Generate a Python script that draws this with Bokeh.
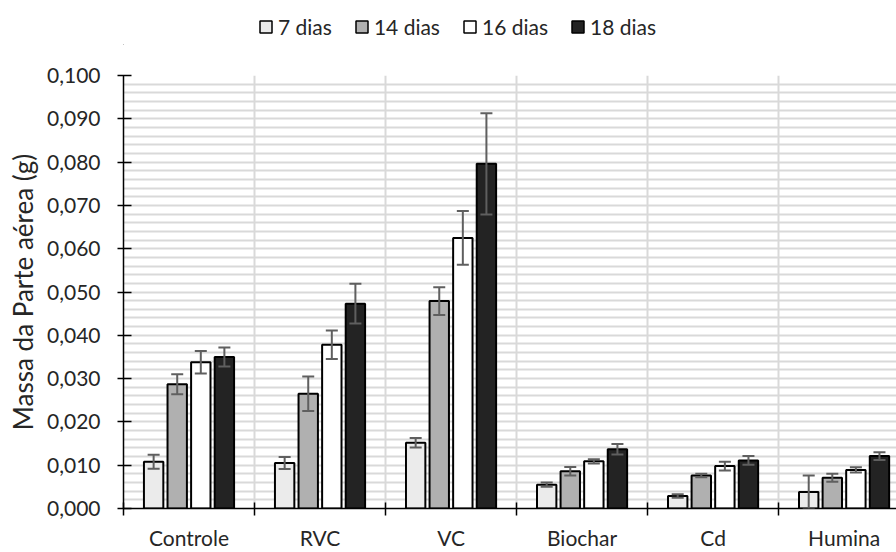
import numpy as np
from bokeh.plotting import figure
from bokeh.layouts import column
from bokeh.models import (ColumnDataSource, Range1d, FixedTicker, SingleIntervalTicker,
                          CustomJSTickFormatter, Whisker, TeeHead, Legend, LegendItem)
from bokeh.transform import dodge
from bokeh.embed import file_html
from bokeh.resources import INLINE

# ---- data ----
categories = ["Controle", "RVC", "VC", "Biochar", "Cd", "Humina"]
series_names = ["7 dias", "14 dias", "16 dias", "18 dias"]

mean_7 = [0.0108, 0.0105, 0.0152, 0.0055, 0.0029, 0.0038]
err_7 = [0.0016, 0.0014, 0.0011, 0.0005, 0.0004, 0.0038]
mean_14 = [0.0287, 0.0265, 0.0479, 0.0086, 0.0076, 0.0071]
err_14 = [0.0023, 0.0040, 0.0032, 0.0010, 0.0004, 0.0009]
mean_16 = [0.0338, 0.0378, 0.0625, 0.0109, 0.0098, 0.0089]
err_16 = [0.0026, 0.0033, 0.0062, 0.0005, 0.0010, 0.0006]
mean_18 = [0.0350, 0.0473, 0.0796, 0.0137, 0.0111, 0.0121]
err_18 = [0.0022, 0.0046, 0.0117, 0.0012, 0.0010, 0.0009]

y_title = "Massa da Parte aérea (g)"

# ---- styles ----
FONT = "Lato"
fills = ["#ebebeb", "#b0b0b0", "#ffffff", "#232323"]
offsets = [-0.27, -0.09, 0.09, 0.27]
bar_w = 0.148
err_color = "#5f5f5f"
LEG_H = 45

# ---- legend strip (separate figure above the chart) ----
leg = figure(width=896, height=LEG_H, output_backend="svg", toolbar_location=None,
             x_range=Range1d(0, 1), y_range=Range1d(0, 1),
             x_axis_location=None, y_axis_location=None,
             min_border=0, background_fill_color="white", border_fill_color="white")
leg.outline_line_color = None
leg.grid.visible = False
# swatch-only renderers, placed outside the visible range so only their legend swatches show
leg_rends = [leg.vbar(x=[-5], top=[0], width=0.1, fill_color=c, line_color="black", line_width=1.5)
             for c in fills]
legend = Legend(items=[LegendItem(label=n, renderers=[r]) for n, r in zip(series_names, leg_rends)],
                orientation="horizontal", location=(135, 6),
                label_text_font=FONT, label_text_font_size="21px", label_text_color="#262626",
                glyph_width=15, glyph_height=15, label_standoff=5, spacing=22,
                padding=0, margin=0, border_line_color=None, background_fill_alpha=0)
leg.add_layout(legend, "center")

# ---- main chart ----
p = figure(width=896, height=552 - LEG_H, output_backend="svg", toolbar_location=None,
           x_range=Range1d(0, 5.9), y_range=Range1d(0, 0.1),
           min_border_left=123, min_border_right=0, min_border_top=75 - LEG_H,
           min_border_bottom=43,
           background_fill_color="white", border_fill_color="white")
p.outline_line_color = None

xc = [i + 0.5 for i in range(len(categories))]
means = [mean_7, mean_14, mean_16, mean_18]
errs = [err_7, err_14, err_16, err_18]

for name, m, e, off, col in zip(series_names, means, errs, offsets, fills):
    m = np.array(m); e = np.array(e)
    src = ColumnDataSource(dict(x=xc, top=m, upper=m + e, lower=np.maximum(m - e, 0)))
    p.vbar(x=dodge("x", off), top="top", width=bar_w, bottom=0, source=src,
           fill_color=col, line_color="black", line_width=2)
    w = Whisker(base=dodge("x", off), upper="upper", lower="lower", source=src,
                line_color=err_color, line_width=2,
                upper_head=TeeHead(size=12, line_color=err_color, line_width=2),
                lower_head=TeeHead(size=12, line_color=err_color, line_width=2))
    w.level = "overlay"
    p.add_layout(w)

# grids
p.ygrid.ticker = SingleIntervalTicker(interval=0.002, num_minor_ticks=0)
p.ygrid.grid_line_color = "#d9d9d9"
p.ygrid.grid_line_width = 2
p.xgrid.ticker = FixedTicker(ticks=list(range(1, len(categories))))
p.xgrid.grid_line_color = "#d9d9d9"
p.xgrid.grid_line_width = 2

# y axis
ya = p.yaxis[0]
ya.ticker = SingleIntervalTicker(interval=0.01, num_minor_ticks=0)
ya.formatter = CustomJSTickFormatter(code="return tick.toFixed(3).replace('.', ',');")
ya.axis_label = y_title
ya.axis_label_text_font = FONT
ya.axis_label_text_font_style = "normal"
ya.axis_label_text_font_size = "26px"
ya.axis_label_text_color = "#262626"
ya.axis_label_standoff = 5
ya.major_label_text_font = FONT
ya.major_label_text_font_size = "21px"
ya.major_label_text_color = "#262626"
ya.major_label_standoff = 17
ya.major_tick_in = 8
ya.major_tick_out = 6
ya.major_tick_line_color = "black"
ya.major_tick_line_width = 1.5
ya.minor_tick_line_color = None
ya.axis_line_color = "black"
ya.axis_line_width = 1.5

# x axis
xa = p.xaxis[0]
xa.ticker = FixedTicker(ticks=xc, minor_ticks=list(range(len(categories) + 1)))
xa.formatter = CustomJSTickFormatter(args=dict(names=categories),
                                     code="return names[Math.floor(tick)] || '';")
xa.major_label_text_font = FONT
xa.major_label_text_font_size = "21px"
xa.major_label_text_color = "#262626"
xa.major_label_standoff = 9
xa.major_tick_in = 0
xa.major_tick_out = 0
xa.minor_tick_in = 6
xa.minor_tick_out = 7
xa.minor_tick_line_color = "black"
xa.minor_tick_line_width = 1.5
xa.axis_line_color = "black"
xa.axis_line_width = 1.5

layout = column(leg, p, spacing=0)
open("out.html", "w").write(file_html(layout, INLINE))
